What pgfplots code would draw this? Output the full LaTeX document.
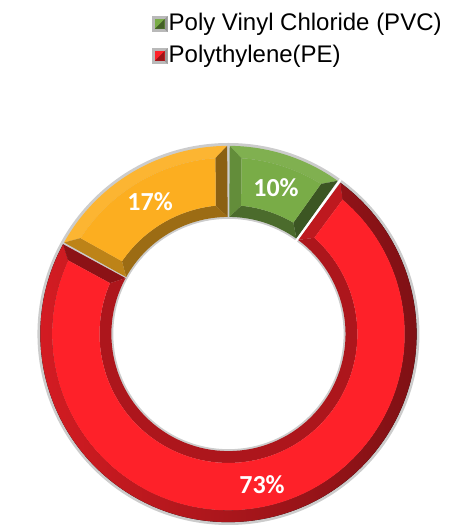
\documentclass[border=0pt]{standalone}
\usepackage{pgfplots}
\pgfplotsset{compat=1.18}
\usepackage{pgfplotstable}
\usepackage{fontspec}
\setmainfont{Liberation Sans}
\newfontfamily\labelfont{Carlito}

\definecolor{pvcgreen}{HTML}{79AC47}
\definecolor{pered}{HTML}{FE2129}
\definecolor{othorange}{HTML}{FCAE20}

\pgfplotstableread{
name value
PVC 10
PE 73
Other 17
}\sharetable

\def\ri{0.613}
\def\ro{0.985}
\def\bw{0.062}
\def\R{191pt}

% #1 start angle, #2 end angle (clockwise), #3 face, #4 outer band, #5 end band, #6 inner band, #7 start band
\newcommand\bevelseg[7]{%
  \pgfmathsetmacro\dO{\bw/(\ro-\bw)*57.2958}%
  \pgfmathsetmacro\dI{\bw/(\ri+\bw)*57.2958}%
  \pgfmathsetmacro\sO{#1-\dO}\pgfmathsetmacro\eO{#2+\dO}%
  \pgfmathsetmacro\sI{#1-\dI}\pgfmathsetmacro\eI{#2+\dI}%
  \pgfmathsetmacro\rO{\ro-\bw}\pgfmathsetmacro\rI{\ri+\bw}%
  % outer band
  \fill[#4] (axis cs:{\ro*cos(#1)},{\ro*sin(#1)}) arc[start angle=#1, end angle=#2, radius=\ro*\R]
     -- (axis cs:{\rO*cos(\eO)},{\rO*sin(\eO)}) arc[start angle=\eO, end angle=\sO, radius=\rO*\R] -- cycle;
  % end band
  \fill[#5] (axis cs:{\ro*cos(#2)},{\ro*sin(#2)}) -- (axis cs:{\ri*cos(#2)},{\ri*sin(#2)})
     -- (axis cs:{\rI*cos(\eI)},{\rI*sin(\eI)}) -- (axis cs:{\rO*cos(\eO)},{\rO*sin(\eO)}) -- cycle;
  % inner band
  \fill[#6] (axis cs:{\ri*cos(#2)},{\ri*sin(#2)}) arc[start angle=#2, end angle=#1, radius=\ri*\R]
     -- (axis cs:{\rI*cos(\sI)},{\rI*sin(\sI)}) arc[start angle=\sI, end angle=\eI, radius=\rI*\R] -- cycle;
  % start band
  \fill[#7] (axis cs:{\ri*cos(#1)},{\ri*sin(#1)}) -- (axis cs:{\ro*cos(#1)},{\ro*sin(#1)})
     -- (axis cs:{\rO*cos(\sO)},{\rO*sin(\sO)}) -- (axis cs:{\rI*cos(\sI)},{\rI*sin(\sI)}) -- cycle;
  % face
  \fill[#3] (axis cs:{\rO*cos(\sO)},{\rO*sin(\sO)}) arc[start angle=\sO, end angle=\eO, radius=\rO*\R]
     -- (axis cs:{\rI*cos(\eI)},{\rI*sin(\eI)}) arc[start angle=\eI, end angle=\sI, radius=\rI*\R] -- cycle;
}

\begin{document}
\pgfplotstablegetelem{0}{value}\of\sharetable\let\vA\pgfplotsretval
\pgfplotstablegetelem{1}{value}\of\sharetable\let\vB\pgfplotsretval
\pgfplotstablegetelem{2}{value}\of\sharetable\let\vC\pgfplotsretval
\pgfmathsetmacro\aA{90}
\pgfmathsetmacro\aB{90-3.6*\vA}
\pgfmathsetmacro\aC{\aB-3.6*\vB}
\pgfmathsetmacro\aD{\aC-3.6*\vC}
\pgfmathsetmacro\mA{(\aA+\aB)/2}
\pgfmathsetmacro\mB{(\aB+\aC)/2}
\pgfmathsetmacro\mC{(\aC+\aD)/2}
\begin{tikzpicture}
\begin{axis}[
  at={(209pt,192pt)}, anchor=center,
  scale only axis, width=382pt, height=382pt,
  xmin=-1, xmax=1, ymin=-1, ymax=1,
  hide axis, clip=false,
  legend cell align=left,
  legend style={at={(0.300,1.343)}, anchor=north west, draw=none, fill=none,
    inner sep=0pt, row sep=8pt,
    font=\fontsize{24}{28}\selectfont,
    nodes={inner sep=1pt, text height=17pt, text depth=5pt}},
]
\addlegendimage{legend image code/.code={
  \fill[gray!55] (0pt,-7.5pt) rectangle (15pt,7.5pt);
  \fill[gray!80] (15pt,-7.5pt) -- (15pt,7.5pt) -- (12pt,4.5pt) -- (12pt,-4.5pt) -- cycle;
  \fill[pvcgreen] (3pt,-4.5pt) rectangle (12pt,4.5pt);
  \fill[pvcgreen!55!black] (3pt,-4.5pt) -- (12pt,-4.5pt) -- (12pt,4.5pt) -- cycle;}}
\addlegendentry{Poly Vinyl Chloride (PVC)}
\addlegendimage{legend image code/.code={
  \fill[gray!55] (0pt,-7.5pt) rectangle (15pt,7.5pt);
  \fill[gray!80] (15pt,-7.5pt) -- (15pt,7.5pt) -- (12pt,4.5pt) -- (12pt,-4.5pt) -- cycle;
  \fill[pered] (3pt,-4.5pt) rectangle (12pt,4.5pt);
  \fill[pered!60!black] (3pt,-4.5pt) -- (12pt,-4.5pt) -- (12pt,4.5pt) -- cycle;}}
\addlegendentry{Polythylene(PE)}

\pgfplotsextra{
  % gray shadow ring
  \fill[gray!40, even odd rule] (axis cs:0,0) circle[radius=\R] (axis cs:0,0) circle[radius=0.603*\R];
  \bevelseg{\aA-0.4}{\aB+0.5}{pvcgreen}{pvcgreen!95!white}{pvcgreen!50!black}{pvcgreen!62!black}{pvcgreen!82!black}
  \bevelseg{\aB-0.5}{\aC+0.3}{pered}{left color=pered!85!black, right color=pered!48!black}{pered!55!black}{pered!68!black}{pered!75!black}
  \bevelseg{\aC-0.3}{\aD+0.4}{othorange}{othorange!92!white}{othorange!55!black}{othorange!62!black}{othorange!75!black}
  \draw[white, line width=2.2pt] (axis cs:{0.6*cos(\aB)},{0.6*sin(\aB)}) -- (axis cs:{1.0*cos(\aB)},{1.0*sin(\aB)});
  \path[font=\labelfont\bfseries\fontsize{26}{30}\selectfont, text=white]
    (axis cs:{0.806*cos(\mA)},{0.806*sin(\mA)}) node {\vA\%}
    (axis cs:{0.806*cos(\mB)},{0.806*sin(\mB)}) node {\vB\%}
    (axis cs:{0.806*cos(\mC)},{0.806*sin(\mC)}) node {\vC\%};
}
\end{axis}
\pgfresetboundingbox
\useasboundingbox (0,0) rectangle (431pt,526pt);
\end{tikzpicture}
\end{document}
